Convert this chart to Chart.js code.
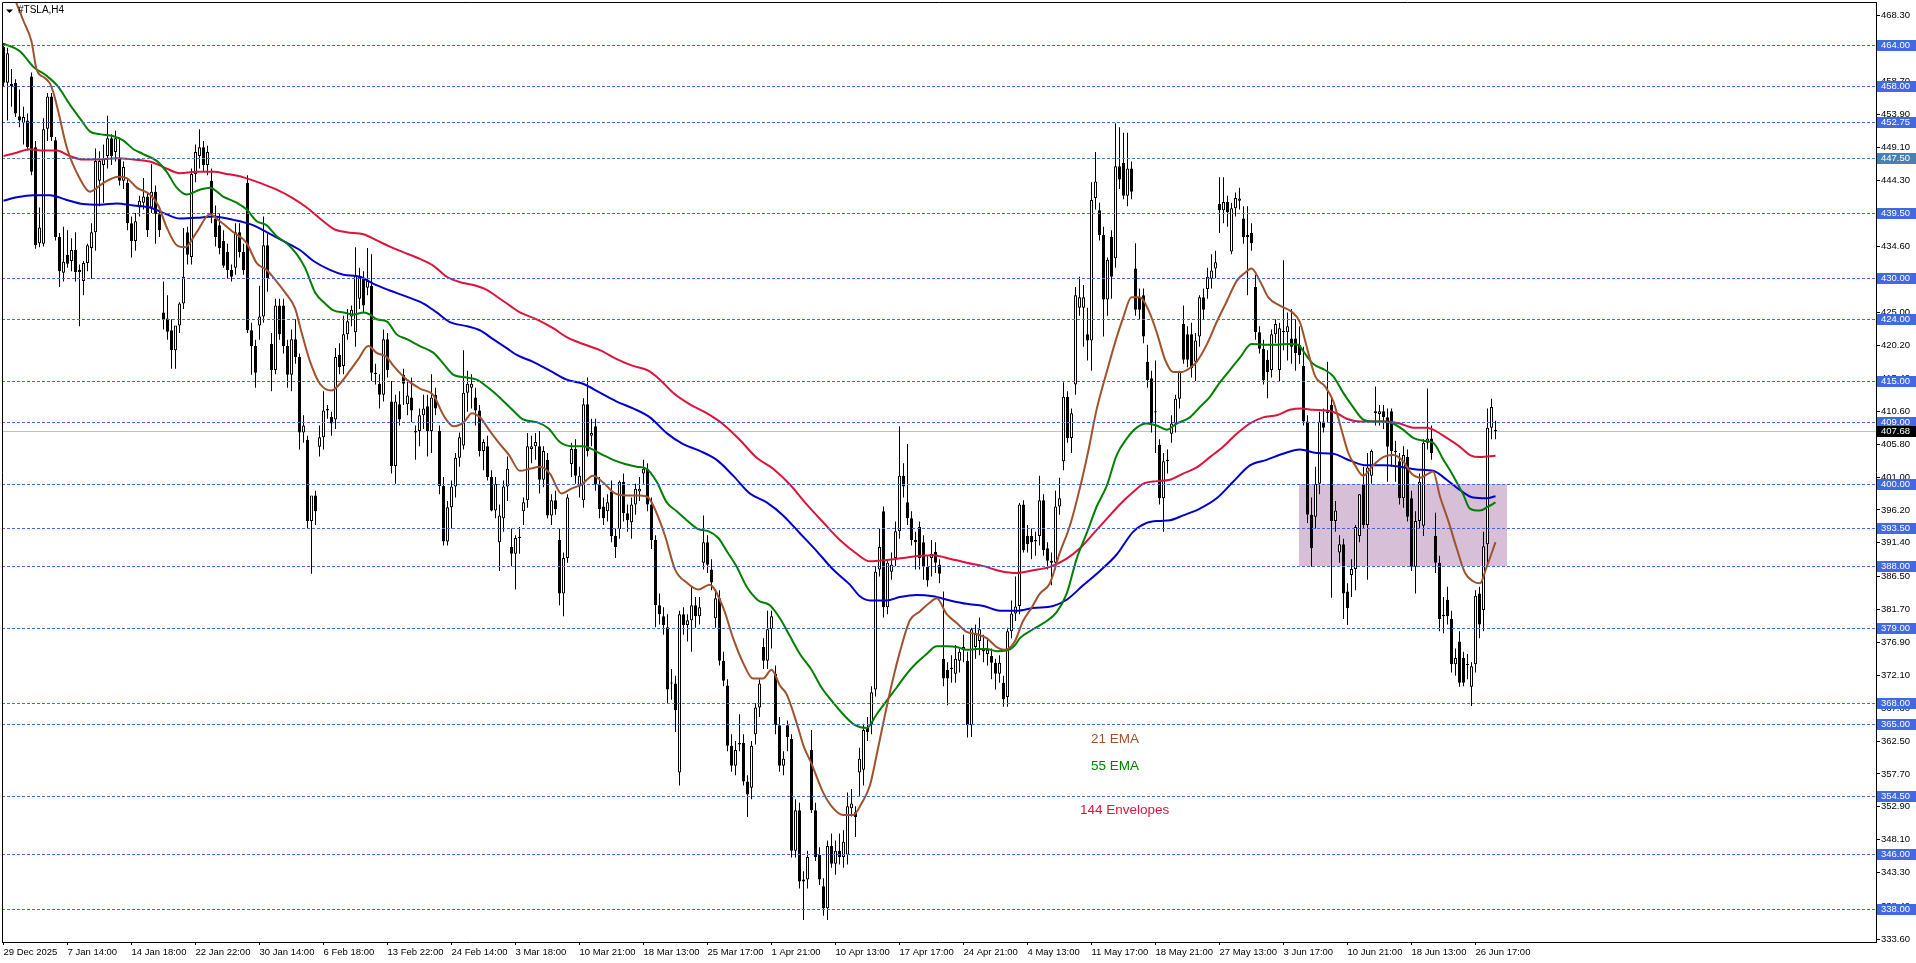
<!DOCTYPE html>
<html>
<head>
<meta charset="utf-8">
<title>#TSLA,H4</title>
<script src="https://cdn.jsdelivr.net/npm/chart.js@4.4.1/dist/chart.umd.min.js"></script>
<style>
  html, body { margin: 0; padding: 0; background: #fff; }
  canvas { display: block; }
</style>
</head>
<body>
<canvas id="chart" width="1916" height="963"></canvas>
<script>
// ============================================================
// #TSLA H4 — candles, EMA 21 / EMA 55 / 144 envelopes, levels
// ============================================================

// ---------- candles (one entry per H4 bar, oldest first) ----------
const opens = [
  463.7,458.5,458.3,458.5,453.6,452.6,453.0,459.4,449.1,435.1, // 0
  435.0,451.8,456.5,450.1,436.0,430.8,433.4,432.5,434.1,430.9, // 10
  429.6,432.2,434.4,436.7,444.2,446.5,447.8,450.4,448.4,447.5, // 20
  444.2,443.9,438.0,435.4,440.3,441.0,441.9,440.3,442.6,439.3, // 30
  425.0,424.1,422.4,419.5,423.1,426.3,436.7,433.1,445.2,447.8, // 40
  449.1,446.5,444.2,438.7,437.7,435.4,433.8,431.2,431.5,436.7, // 50
  433.8,443.9,422.4,420.1,423.1,424.4,434.8,420.4,416.6,426.0, // 60
  426.0,420.1,415.9,421.1,418.5,407.5,406.4,394.6,398.3,405.4, // 70
  406.8,410.7,409.8,409.4,418.8,417.2,421.8,424.4,422.1,427.0, // 80
  429.9,428.6,428.9,416.2,414.6,413.0,421.1,412.0,402.6,411.6, // 90
  415.9,411.6,412.6,407.7,407.7,410.0,411.3,407.7,413.0,407.7, // 100
  399.7,391.6,396.6,399.6,403.8,405.6,413.3,414.0,412.6,410.7, // 110
  404.8,405.5,401.0,396.1,391.5,395.0,399.6,390.8,389.8,392.1, // 120
  396.0,397.6,405.1,405.5,405.5,400.6,403.5,395.4,397.6,391.8, // 130
  384.0,389.2,402.9,405.1,399.6,397.6,411.6,407.0,408.4,399.9, // 140
  396.7,396.0,398.9,392.4,393.4,400.3,395.7,394.4,397.0,398.9, // 150
  401.5,402.2,397.0,391.8,382.3,380.7,379.1,370.9,370.9,357.9, // 160
  381.0,379.4,380.1,382.3,380.7,388.5,391.5,387.5,380.4,383.3, // 170
  374.2,370.6,361.8,358.9,362.2,362.2,356.6,355.7,363.5,367.4, // 180
  376.2,374.2,378.8,372.3,364.8,358.9,364.8,362.8,346.5,352.4, // 190
  342.3,342.3,361.2,352.4,345.9,341.3,338.1,347.2,344.6,346.5, // 200
  345.6,345.9,352.7,352.1,357.9,358.3,364.4,364.8,370.0,387.5, // 210
  396.0,382.0,387.2,389.2,393.1,401.2,397.3,395.0,391.8,393.7, // 220
  391.5,387.9,389.2,390.1,388.2,374.5,372.9,373.2,372.3,374.2, // 230
  375.8,374.2,364.8,376.2,377.1,375.8,375.2,374.9,373.9,372.3, // 240
  371.0,368.9,378.5,381.1,382.2,397.0,392.4,392.4,391.6,392.4, // 250
  397.6,390.6,388.8,388.5,396.7,403.3,412.7,406.7,414.5,425.7, // 260
  425.7,421.8,420.9,441.7,439.9,436.3,426.9,436.0,432.9,446.3, // 270
  446.8,442.0,446.0,431.4,427.2,427.5,417.8,415.4,410.6,405.7, // 280
  397.9,403.3,407.3,408.8,412.4,423.3,421.8,421.8,417.8,421.5, // 290
  427.2,428.4,429.9,431.4,440.8,439.9,441.1,433.9,440.2,441.3, // 300
  438.7,436.3,436.6,428.7,422.1,419.7,418.1,416.6,421.8,416.6, // 310
  422.1,422.1,421.2,421.2,420.3,417.2,409.1,395.5,395.2,400.0, // 320
  409.1,410.6,411.5,394.6,390.0,391.2,384.3,386.7,387.6,392.4, // 330
  400.0,394.0,401.2,410.3,410.2,410.6,409.7,410.6,404.8,403.3, // 340
  397.9,403.9,397.9,387.9,394.6,393.9,406.0,406.6,392.4,388.5, // 350
  380.9,383.1,380.3,373.7,377.0,374.6,373.7,370.4,373.7,384.0, // 360
  381.6,391.2,408.2,407.9                                      // 370
];

const highs = [
  464.3,463.6,460.5,459.0,457.5,455.0,454.0,460.0,450.0,440.3,
  453.3,457.0,457.0,450.6,436.6,437.5,437.0,435.8,436.7,432.0,
  432.5,435.0,438.0,448.9,448.5,449.5,453.7,451.0,451.5,450.5,
  447.0,444.5,439.0,439.5,442.0,444.6,442.5,446.6,443.5,440.0,
  429.5,427.5,424.0,423.0,426.5,437.3,437.5,446.0,449.5,451.7,
  450.0,449.3,446.0,440.6,439.5,437.0,435.0,432.0,438.0,438.0,
  435.0,445.0,423.5,421.0,428.9,439.0,436.5,422.0,427.0,427.0,
  427.0,421.0,422.5,424.0,419.0,410.0,407.0,398.0,399.0,408.5,
  413.5,411.5,410.5,419.8,420.5,424.5,425.5,426.0,434.5,431.5,
  431.0,434.4,433.5,417.5,416.0,422.5,422.0,415.0,413.0,413.5,
  416.8,415.0,415.5,408.5,411.0,413.0,413.0,416.0,414.0,408.5,
  401.0,397.5,400.5,404.5,407.5,419.5,416.5,416.0,414.0,411.5,
  406.5,407.0,402.0,401.0,397.0,400.5,404.0,393.5,392.5,393.7,
  398.0,407.4,407.0,407.4,407.7,405.5,404.5,398.5,399.0,393.5,
  390.0,398.5,406.0,406.5,402.5,412.5,415.5,409.5,409.5,401.0,
  398.0,398.5,400.5,393.5,400.5,401.5,397.0,398.0,400.0,401.0,
  403.5,403.0,398.0,392.5,384.0,382.0,381.0,373.0,372.0,381.5,
  382.0,381.0,385.0,383.5,383.5,395.4,392.5,389.0,384.5,384.5,
  375.5,371.5,363.5,362.5,366.4,363.5,357.5,362.5,368.0,371.5,
  377.5,381.5,381.5,373.5,366.0,361.0,365.5,363.5,354.0,353.5,
  343.5,346.5,364.1,353.5,347.0,342.5,348.0,349.0,348.0,349.0,
  349.5,355.0,355.5,353.0,361.5,365.0,366.0,370.5,388.0,393.5,
  396.7,389.0,390.0,394.5,408.4,403.0,405.8,396.0,393.0,394.5,
  392.5,389.5,391.8,391.5,389.0,384.3,374.0,375.0,376.5,376.0,
  378.0,375.5,379.0,379.5,380.5,378.0,377.5,376.0,374.5,375.0,
  372.0,379.0,383.0,386.5,397.2,397.6,394.0,393.5,393.0,401.2,
  398.5,391.5,390.0,399.0,400.9,414.8,413.5,411.0,428.7,430.2,
  429.0,425.7,444.0,448.4,441.0,437.5,433.0,437.0,452.6,452.0,
  451.2,451.2,447.0,435.1,428.5,428.5,420.3,416.5,418.0,406.5,
  404.5,405.0,410.0,413.0,416.5,426.0,423.0,423.5,422.0,427.5,
  428.5,431.5,433.5,434.0,444.7,444.7,442.0,441.0,442.5,443.2,
  440.5,440.5,438.0,430.5,423.0,421.0,419.5,422.5,424.0,423.5,
  432.6,425.0,425.5,424.0,423.0,420.0,410.0,398.0,402.5,410.5,
  411.0,417.8,412.5,397.5,392.5,392.0,385.5,389.0,394.0,398.5,
  402.5,404.5,405.0,414.2,411.5,411.5,411.0,411.0,406.3,404.5,
  405.5,405.0,399.0,396.0,401.5,406.5,413.9,408.5,395.8,389.5,
  383.5,385.0,381.5,376.0,378.5,375.5,375.2,374.0,384.5,385.0,
  393.0,411.0,412.4,409.2
];

const lows = [
  457.9,453.0,455.0,453.5,452.0,449.5,448.6,445.0,434.3,434.5,
  434.6,450.0,450.0,435.5,428.7,429.5,431.5,431.0,429.5,423.0,
  427.5,431.0,429.9,434.0,440.5,441.0,446.0,446.5,447.0,443.5,
  443.0,437.0,433.0,434.0,439.0,440.0,436.0,439.5,435.0,436.0,
  422.5,421.0,416.8,416.8,422.0,425.5,432.0,432.0,444.0,446.0,
  445.5,445.0,438.0,434.6,433.5,431.5,430.0,429.5,430.5,433.0,
  430.5,422.0,415.9,414.0,421.0,423.5,428.0,413.5,416.0,421.0,
  419.0,414.0,413.5,417.5,405.0,406.0,393.5,386.9,394.0,404.0,
  405.0,409.5,407.0,408.0,416.0,416.0,421.0,423.0,420.0,425.5,
  425.0,427.5,415.0,414.5,411.0,412.0,415.5,401.5,400.0,408.5,
  411.5,410.0,409.0,403.5,405.5,408.0,404.0,404.5,410.0,398.5,
  391.0,391.0,393.5,398.0,402.5,405.0,410.5,411.0,408.5,404.0,
  402.0,400.5,396.0,395.0,387.3,393.0,397.5,388.0,384.6,389.8,
  394.0,396.5,403.0,403.5,398.6,399.5,395.0,394.0,395.5,382.3,
  380.7,388.5,401.0,400.0,398.0,396.5,404.0,405.5,399.0,395.0,
  394.0,394.5,391.5,389.2,392.0,394.5,393.0,392.0,395.5,397.5,
  400.0,396.0,390.5,379.1,379.5,378.0,368.0,368.5,363.8,356.0,
  378.0,377.0,375.5,379.0,379.5,387.5,387.0,384.5,379.0,373.5,
  370.5,361.0,358.0,357.5,361.0,356.0,351.4,354.0,362.0,366.0,
  373.0,373.0,376.0,363.5,358.0,357.5,361.0,345.5,345.5,341.0,
  336.4,341.0,352.0,345.0,341.5,337.0,336.4,344.0,343.0,344.5,
  344.0,344.5,351.5,348.5,354.5,356.0,362.5,363.5,369.0,386.5,
  380.5,381.0,386.0,388.0,392.0,398.0,394.0,391.0,387.5,387.5,
  386.0,385.0,386.5,387.0,385.5,370.5,367.7,371.0,371.0,372.5,
  374.0,363.0,363.1,374.5,375.0,374.0,373.5,371.5,370.0,371.0,
  367.5,367.5,377.5,380.0,381.0,390.0,390.0,389.0,389.5,391.0,
  389.5,387.5,385.2,387.5,395.5,402.0,406.0,404.5,413.0,424.5,
  420.0,418.0,416.5,440.0,435.5,421.5,424.5,427.0,431.5,443.0,
  441.5,440.5,441.5,424.5,424.0,420.5,414.0,407.5,404.5,397.0,
  393.0,401.5,406.0,407.5,411.0,417.5,417.0,415.5,415.0,420.0,
  424.0,427.0,428.5,430.0,436.6,438.0,437.5,433.5,439.0,440.0,
  435.0,427.5,434.0,421.0,419.0,414.5,412.5,415.5,420.5,415.0,
  419.5,418.0,417.5,416.5,417.5,408.5,394.3,387.9,393.5,398.5,
  407.5,409.0,383.4,393.0,388.5,380.3,379.4,383.5,384.5,391.5,
  393.5,386.0,400.0,408.5,408.5,408.0,400.3,402.5,400.3,397.0,
  396.5,394.5,387.3,384.0,393.5,392.4,405.0,403.5,387.0,378.5,
  378.2,379.5,372.5,372.0,370.4,370.5,371.5,367.6,372.5,377.5,
  378.5,388.0,406.5,406.5
];

const closes = [
  458.5,462.8,458.0,454.0,453.0,453.5,449.1,445.5,434.8,437.4,
  451.7,456.5,450.6,436.0,431.0,432.4,432.1,434.1,430.9,431.2,
  432.2,434.8,436.7,447.1,447.1,447.5,450.4,447.8,450.4,444.2,
  446.2,438.0,435.4,438.3,441.3,441.9,437.0,442.6,439.3,437.0,
  424.0,422.2,419.5,423.1,426.3,430.2,433.4,445.2,448.4,449.1,
  446.5,448.4,439.3,436.0,434.4,431.8,431.2,430.2,436.7,433.8,
  431.2,422.4,420.1,416.2,424.4,434.8,430.0,416.6,426.0,421.8,
  420.1,415.9,421.1,418.5,407.5,408.5,394.6,398.3,396.0,406.8,
  410.7,410.9,408.8,418.5,417.0,421.8,423.7,425.4,430.5,430.2,
  426.0,429.6,416.2,416.0,413.0,421.1,416.6,402.6,412.0,409.4,
  414.6,412.9,410.7,407.5,410.0,411.0,407.7,412.6,411.0,399.7,
  391.6,396.6,399.6,403.8,406.8,413.3,414.6,414.6,410.7,404.8,
  406.1,401.0,396.1,400.0,395.4,399.6,402.2,389.8,392.1,392.3,
  397.3,405.5,405.5,406.1,400.6,404.8,395.4,397.6,396.3,384.0,
  389.2,398.0,405.1,401.2,401.2,411.6,404.8,407.4,399.9,396.3,
  395.0,397.3,392.4,390.8,400.3,395.7,394.7,397.0,399.3,399.3,
  402.2,397.0,391.8,382.3,381.0,379.4,370.0,371.0,367.0,381.0,
  379.4,380.1,382.3,380.7,382.0,391.5,388.2,385.6,383.3,374.2,
  371.3,361.8,358.9,361.2,362.0,356.6,354.7,361.8,367.4,370.9,
  374.2,378.8,380.7,364.8,358.9,359.9,363.1,346.5,352.4,342.0,
  342.0,345.6,352.4,345.6,342.3,338.1,347.2,344.6,346.5,345.6,
  347.8,353.0,353.4,351.4,359.9,364.1,363.8,369.6,387.2,390.8,
  382.0,388.5,388.2,393.1,401.2,399.6,395.0,391.8,391.5,389.2,
  387.9,385.9,389.8,388.5,386.9,371.6,371.6,373.0,374.5,375.5,
  376.2,364.8,378.8,378.1,378.8,375.6,375.8,373.9,372.3,373.9,
  368.6,378.5,381.1,382.1,397.0,390.3,391.2,391.5,391.8,397.6,
  390.3,388.8,388.5,396.7,397.9,412.7,406.7,410.3,427.5,427.2,
  427.2,420.9,441.4,444.1,436.3,426.9,432.7,430.2,446.3,444.4,
  442.0,446.0,442.6,425.4,425.4,421.5,415.1,408.8,410.4,397.9,
  403.3,403.5,408.8,412.4,416.3,418.1,418.1,416.9,420.9,427.2,
  425.4,430.2,431.1,432.3,439.9,441.1,439.6,440.2,441.7,441.6,
  436.0,436.0,435.1,422.1,419.7,415.1,416.3,421.8,423.3,422.7,
  422.3,423.0,420.0,419.1,418.8,409.1,395.5,390.6,400.0,409.1,
  408.2,410.3,394.6,396.1,391.2,384.0,381.9,387.6,393.7,398.5,
  394.0,402.4,404.8,410.6,410.6,409.7,405.4,404.8,404.6,397.9,
  404.2,395.2,387.9,394.6,400.3,406.0,406.6,404.5,388.5,380.3,
  380.7,380.7,373.7,374.6,371.0,371.0,373.6,373.4,383.7,379.5,
  390.9,408.2,411.2,407.68
];

// ---------- indicator lines as [bar, price] ----------
const ema21 = [
  [2.9,470.6],[5,467.5],[7,464.5],[8.3,460.4],[10.3,459.2],[11.6,458.4],[12.5,457.0],[13.7,454.3],
  [15.8,449.1],[19.1,444.5],[21.6,442.6],[25,443.9],[28.7,444.8],[30.8,444.6],[33.3,443.2],[36.6,442.2],
  [38.7,440.6],[40.8,437.4],[43.3,434.8],[45.4,434.5],[48.3,436.7],[51.6,439.3],[54.1,438.3],[57.5,436.7],
  [60.8,435.1],[63.3,432.2],[65.8,431.2],[68.3,429.5],[70.8,427.6],[72.9,425.6],[74.5,422.1],[76.6,417.9],
  [79.1,414.6],[82,413.6],[84.1,414.6],[86.6,416.5],[88.7,418.2],[91.2,420.1],[93.3,419.1],[95.8,418.5],
  [97.5,417.2],[100.8,415.2],[104.1,413.9],[107.5,412.9],[110,410],[112.5,408.4],[115.1,409],[117.1,410.3],
  [119.1,409.7],[121.6,407.7],[124.1,405.8],[126.4,404.2],[129.1,401.9],[131.6,402.2],[134.1,402.5],[136.6,401.5],
  [139.5,398.6],[142,399.3],[144.5,399.9],[147.4,401.2],[149.9,400.2],[152.9,398.6],[155.8,398.3],[159.1,398.3],
  [161.2,398],[163.3,395.7],[165.4,392.4],[167.9,387.5],[170.8,385.6],[173.7,384.6],[176.5,385.3],[179.9,382],
  [182.4,377.5],[184.9,373.9],[187.4,371.6],[189.9,371.6],[192,372.9],[194.1,370.6],[195.8,369.3],[198.3,365.1],
  [200,361.8],[202,359.2],[204.9,355],[207.4,352.7],[209.9,351.7],[212.4,351.7],[214.5,353.4],[216.6,356],
  [218.3,360.5],[220.4,366.4],[222.4,371.6],[224.1,375.5],[226.6,380.1],[229.1,381.4],[231.6,382.7],[233.3,383.3],
  [235.8,381],[238.3,379.7],[240.8,378.4],[243.3,378.1],[245.8,377.5],[248.3,376.2],[250.2,375.8],[252.7,376.9],
  [254.9,380],[257,381.9],[259.1,384],[261.6,385.5],[264.1,390],[266.6,393.9],[269.1,399.4],[271.2,404.8],
  [273.3,410.9],[275.8,416.3],[277.9,420.6],[279.9,424.2],[282,427.2],[284.1,427.2],[286.2,425.4],[288.3,422.1],
  [290.4,418.1],[292.4,416.3],[294.5,416.3],[296.6,416.9],[298.3,417.8],[300.8,420.3],[303.3,423.6],[305.8,426.6],
  [308.3,429.6],[310.4,430.8],[312,431.4],[314.1,429.6],[316.2,427.2],[319.1,426],[322,425.1],[324.1,423.6],
  [325.8,420],[327.9,415.7],[330.4,414.2],[332.4,412.1],[334.5,407.9],[336.2,404.5],[337.9,402.7],[339.9,401.2],
  [342.4,402.7],[344.9,403.9],[347.4,404.2],[349.9,403.3],[352,401.5],[354.1,400.9],[356.2,401.5],[357.4,401.8],
  [359.1,398.2],[361.2,394.6],[363.3,390.6],[365.4,387],[367.4,385.8],[369.1,385.5],[370.8,387.9],[373,391.5]
];

const ema55 = [
  [0,464.2],[4.1,463.1],[7.5,460.8],[10.8,459.5],[13.7,457.9],[16.6,455.3],[19.1,453.3],[21.6,451.4],
  [24.1,451],[27.5,450.7],[29.9,450.1],[32.5,448.8],[34.9,448.1],[38.3,447.1],[40.8,445.5],[43.3,443.2],
  [45.8,442.2],[49.1,442.9],[51.6,443.2],[54.9,441.9],[58.3,441],[60.8,440],[63.3,438.3],[65.8,437.7],
  [68.3,436.1],[70.8,435.1],[73.3,433.5],[75.4,431.5],[77.9,427.9],[80.4,426.3],[82.5,425.3],[85,425],
  [87.5,424.7],[90,425],[91.6,424.7],[93.3,424],[95.8,423.7],[98.3,421.8],[100.8,421.1],[104.1,420.1],
  [107.5,419.1],[110,417.5],[112.5,415.9],[115.8,415.5],[118.3,415.2],[120.8,414.2],[123.3,413],[125.8,411.6],
  [127.4,410.7],[129.9,409.4],[133.3,409],[136.2,408.1],[139.1,406.1],[142,405.5],[144.9,405.5],[147,405.1],
  [149.9,404.2],[152.4,403.5],[155.4,402.9],[158.3,402.5],[160.8,402.2],[163.3,400.3],[165.8,397.3],[168.3,396],
  [170.8,394.7],[173.7,393.4],[176.2,393.1],[178.7,392.1],[180.8,390.2],[183.3,387.9],[185.8,385],[188.7,383],
  [191.6,382.3],[194.1,380.4],[196.6,377.8],[199.1,375.2],[202,372.9],[204.5,370.3],[207,368.4],[209.9,366.4],
  [212.9,364.8],[215.8,364.4],[218.3,366.4],[220.8,368.4],[223.3,370.3],[225.8,372.3],[228.3,373.9],[230.8,375.2],
  [233.3,376.3],[235.8,376.3],[238.3,376.2],[240.8,375.8],[243.3,375.9],[245.8,375.9],[248.3,375.6],[250.8,375.7],
  [252.9,376.5],[254.1,377.5],[257.4,378.8],[260.8,380],[263.3,381.3],[265.8,384],[268.3,389.1],[270.8,392.8],
  [273.3,396.7],[275.8,399.7],[278.3,404.2],[280.8,406.6],[283.3,408.2],[285.8,408.8],[288.3,408.5],[290.8,407.9],
  [293.3,408.8],[296.6,409.7],[299.1,411.2],[301.6,412.7],[304.1,414.8],[306.6,416.6],[309.1,418.4],[312,420.4],
  [315,420.3],[318.3,420.3],[321.6,420.4],[323.7,420.3],[324.9,419.4],[327.4,417.5],[330.4,416.6],[332.4,415.7],
  [334.9,413.3],[337.4,411.2],[339.9,409.4],[342.4,409.1],[344.9,409.1],[347.4,408.8],[349.9,407.9],[352.4,406.7],
  [354.9,406.3],[357.4,406],[359.9,403.6],[362.4,401.2],[364.9,398.5],[366.6,396.4],[369.1,396.1],[371.2,396.7],
  [373,397.3]
];

const envUpper = [
  [0,447.8],[3.3,448.3],[6.6,448.8],[9.9,448.6],[13.3,448.6],[16.6,447.8],[19.9,447.3],[24.1,447.3],
  [28.3,447.5],[32.5,447.3],[36.6,447],[40,446.2],[44.1,445.3],[48.3,445.5],[52.5,445.5],[55.8,445.2],
  [60,444.7],[64.1,443.9],[68.3,442.9],[72.5,441.6],[75.8,440.3],[79.1,438.7],[82.5,437.2],[85.8,436.7],
  [90,436.4],[93.3,435.5],[96.6,434.6],[99.9,433.8],[104.1,432.8],[107.5,431.8],[110.8,430.2],[114.2,429.4],
  [117.5,429],[120.8,428.3],[124.1,427],[126.6,426],[129.1,425],[133.3,424],[137.4,422.7],[140.8,421.4],
  [144.9,420.4],[149.1,419.5],[153.3,418.2],[157.4,417.2],[161.2,416.5],[164.1,415.2],[167.4,413.3],[171.6,411.6],
  [175.8,410.3],[179.9,408.7],[184.1,406.4],[188.3,403.8],[192.4,402.2],[196.6,399.9],[200.8,397],[204.9,394.4],
  [209.1,391.8],[213.3,389.8],[216.6,388.7],[220.8,388.9],[224.9,389.2],[229.1,389.5],[232.4,389.6],[235.8,389.2],
  [240.8,388.5],[245,388],[249.1,387.3],[253.3,387],[257.4,387.4],[261.6,387.9],[265.8,389.1],[269.1,390.6],
  [272.4,392.7],[275.8,394.9],[279.1,397],[282.4,398.8],[284.9,400],[288.3,400.4],[291.6,400.6],[294.9,401.5],
  [298.3,402.4],[301.6,403.9],[304.9,405.4],[308.3,407.3],[311.6,408.8],[314.9,409.7],[318.3,410],[321.6,410.8],
  [324.5,411],[327.4,410.8],[330.7,410.7],[333.3,410.3],[335.8,409.5],[339.1,409.1],[342.4,409.1],[345.8,409.1],
  [349.1,408.8],[352.4,408.2],[355.8,408.2],[357.4,407.9],[360.8,406.7],[364.1,405.4],[366.6,404.2],[369.1,403.9],
  [373,404.1]
];

const envLower = [
  [0,441.3],[3.3,441.8],[7.5,442.1],[11.6,442.1],[15.8,441.4],[19.9,440.8],[24.1,440.7],[28.3,440.9],
  [32.5,440.6],[36.6,440.3],[40.8,439.3],[44.1,438.7],[48.3,438.8],[52.5,439],[57.5,438.5],[62.5,437.7],
  [65.8,436.7],[70,435.4],[74.1,434.1],[77.5,432.5],[81.6,431.2],[85,430.5],[89.1,430.2],[92.4,429.2],
  [96.6,428.2],[100.8,427.3],[105,426.3],[108.3,425],[111.6,423.6],[115.8,423],[119.1,422.4],[122.4,421.1],
  [125.8,419.8],[128.3,418.8],[132.4,417.8],[136.6,416.5],[140.8,415.2],[144.9,414.6],[149.1,413.3],[153.3,412],
  [157.4,411],[161.6,409.7],[165.8,407.4],[169.9,405.8],[174.1,404.8],[178.3,403.5],[182.4,401.2],[186.6,398.6],
  [190.8,397.3],[194.9,395.4],[199.1,392.8],[203.3,390.2],[207.4,387.5],[211.6,385.3],[214.1,383.6],[216.6,383],
  [220.8,383],[224.1,383.5],[228.3,383.8],[232.4,383.6],[236.6,383],[240.8,382.5],[245,382.2],[249.1,381.5],
  [253.3,381.5],[257.4,381.9],[262.4,382.2],[265.8,383.1],[269.9,385.2],[274.1,387.3],[278.3,389.7],[282.4,393],
  [285.8,394.3],[289.1,394.6],[291.6,394.7],[294.9,395.4],[299.1,396.4],[303.3,397.9],[307.4,400.3],[311.6,402.7],
  [315.8,403.5],[319.9,404.4],[324.1,405],[328.3,404.5],[332.4,404.4],[336.6,403.4],[340.8,402.7],[344.9,402.7],
  [349.1,402.5],[353.3,402.1],[357.4,401.9],[360.8,400.6],[364.1,399.1],[367.4,398],[370.8,397.9],[373,398.2]
];

// ---------- horizontal levels, zone, bid ----------
const levels = [464, 458, 452.75, 447.5, 439.5, 430, 424, 415, 409, 400, 393.5, 388, 379, 368, 365, 354.5, 346, 338];
const selectedLevel = 447.5;
const bidPrice = 407.68;
const zoneBars = [323.9, 375.8];
const zonePrices = [388, 400];

// ---------- axes ----------
const yTickValues = [
  333.6, 338.4, 343.3, 348.1, 352.9, 357.7, 362.5, 367.3, 372.1, 376.9, 381.7, 386.5, 391.4, 396.2, 401.0,
  405.8, 410.6, 415.4, 420.2, 425.0, 429.8, 434.6, 439.5, 444.3, 449.1, 453.9, 458.7, 463.5, 468.3
];
const priceRange = [333.1875, 470.271];
const barRange = [-0.375, 468.125];

const xTickBars = [0,16,32,48,64,80,96,112,128,144,160,176,192,208,224,240,256,272,288,304,320,336,352,368];
const xTickLabels = [
  "29 Dec 2025", "7 Jan 14:00", "14 Jan 18:00", "22 Jan 22:00", "30 Jan 14:00", "6 Feb 18:00",
  "13 Feb 22:00", "24 Feb 14:00", "3 Mar 18:00", "10 Mar 21:00", "18 Mar 13:00", "25 Mar 17:00",
  "1 Apr 21:00", "10 Apr 13:00", "17 Apr 17:00", "24 Apr 21:00", "4 May 13:00", "11 May 17:00",
  "18 May 21:00", "27 May 13:00", "3 Jun 17:00", "10 Jun 21:00", "18 Jun 13:00", "26 Jun 17:00"
];

// ---------- chart annotations ----------
const notes = [
  { text: "21 EMA", bar: 271.9, price: 362.8, color: "#A0522D" },
  { text: "55 EMA", bar: 271.9, price: 358.85, color: "#008000" },
  { text: "144 Envelopes", bar: 269.1, price: 352.45, color: "#DC143C" }
];

// ============================================================
// BUILD DATASETS
// ============================================================

const FONT_FAMILY = "'Liberation Sans', Arial, sans-serif";
const TICK_FONT = { family: FONT_FAMILY, size: 9.5 };

const barIdx = opens.map((_, i) => i);
const bodyColors = barIdx.map(i => (closes[i] >= opens[i] ? "#ffffff" : "#000000"));

function toPoints(pairs) {
  return pairs.map(([x, y]) => ({ x, y }));
}

function lineSet(label, pairs, color) {
  return {
    type: "line",
    label,
    data: toPoints(pairs),
    borderColor: color,
    borderWidth: 2,
    pointRadius: 0,
    cubicInterpolationMode: "monotone",
    order: 1
  };
}

// ============================================================
// OVERLAY PLUGIN — zone, bid line, levels, labels, frame
// ============================================================

const overlay = {
  id: "overlay",

  beforeDatasetsDraw(chart) {
    const { ctx, chartArea: a, scales: { x, y } } = chart;
    ctx.save();
    ctx.beginPath();
    ctx.rect(a.left, a.top, a.right - a.left, a.bottom - a.top);
    ctx.clip();

    // zone rectangle
    const zx0 = x.getPixelForValue(zoneBars[0]);
    const zx1 = x.getPixelForValue(zoneBars[1]);
    const zy0 = y.getPixelForValue(zonePrices[1]);
    const zy1 = y.getPixelForValue(zonePrices[0]);
    ctx.fillStyle = "#D8BFD8";
    ctx.fillRect(Math.round(zx0), Math.round(zy0), Math.round(zx1 - zx0), Math.round(zy1 - zy0));

    // bid line
    const by = Math.round(y.getPixelForValue(bidPrice)) + 0.5;
    ctx.strokeStyle = "#C0C0C0";
    ctx.lineWidth = 1;
    ctx.beginPath();
    ctx.moveTo(a.left, by);
    ctx.lineTo(a.right, by);
    ctx.stroke();

    ctx.restore();
  },

  afterDatasetsDraw(chart) {
    const { ctx, chartArea: a, scales: { x, y } } = chart;
    ctx.save();
    ctx.beginPath();
    ctx.rect(a.left, a.top, a.right - a.left, a.bottom - a.top);
    ctx.clip();

    // dashed levels
    ctx.lineWidth = 1;
    ctx.setLineDash([3, 2]);
    levels.forEach(v => {
      const py = Math.round(y.getPixelForValue(v)) + 0.5;
      ctx.strokeStyle = v === selectedLevel ? "#4682B4" : "#4169E1";
      ctx.beginPath();
      ctx.moveTo(a.left, py);
      ctx.lineTo(a.right, py);
      ctx.stroke();
    });
    ctx.setLineDash([]);

    // text notes
    ctx.font = "13.5px " + FONT_FAMILY;
    ctx.textBaseline = "middle";
    ctx.textAlign = "left";
    notes.forEach(n => {
      ctx.fillStyle = n.color;
      ctx.fillText(n.text, x.getPixelForValue(n.bar), y.getPixelForValue(n.price));
    });

    ctx.restore();
  },

  afterDraw(chart) {
    const { ctx, chartArea: a, scales: { y } } = chart;
    ctx.save();

    // frame (left + top; right/bottom come from the axes)
    ctx.strokeStyle = "#000";
    ctx.lineWidth = 1;
    ctx.beginPath();
    ctx.moveTo(a.left + 0.5, a.bottom);
    ctx.lineTo(a.left + 0.5, a.top + 0.5);
    ctx.lineTo(a.right, a.top + 0.5);
    ctx.stroke();

    // price boxes on the axis
    ctx.font = "9.5px " + FONT_FAMILY;
    ctx.textBaseline = "middle";
    ctx.textAlign = "left";
    levels.forEach(v => {
      const py = Math.round(y.getPixelForValue(v));
      ctx.fillStyle = v === selectedLevel ? "#4682B4" : "#4169E1";
      ctx.fillRect(a.right + 1, py - 5, 40, 11);
      ctx.fillStyle = "#ffffff";
      ctx.fillText(v.toFixed(2), a.right + 5, py + 0.5);
    });

    const bpy = Math.round(y.getPixelForValue(bidPrice));
    ctx.fillStyle = "#000000";
    ctx.fillRect(a.right + 1, bpy - 5, 40, 11);
    ctx.fillStyle = "#ffffff";
    ctx.fillText(bidPrice.toFixed(2), a.right + 5, bpy + 0.5);

    // symbol title
    ctx.fillStyle = "#000000";
    ctx.beginPath();
    ctx.moveTo(a.left + 4, a.top + 7.5);
    ctx.lineTo(a.left + 11, a.top + 7.5);
    ctx.lineTo(a.left + 7.5, a.top + 11);
    ctx.closePath();
    ctx.fill();
    ctx.font = "10px " + FONT_FAMILY;
    ctx.fillText("#TSLA,H4", a.left + 16, a.top + 8.5);

    ctx.restore();
  }
};

// ============================================================
// CHART
// ============================================================

new Chart(document.getElementById("chart"), {
  type: "bar",
  data: {
    datasets: [
      lineSet("21 EMA", ema21, "#A0522D"),
      lineSet("55 EMA", ema55, "#008000"),
      lineSet("144 Envelopes upper", envUpper, "#DC143C"),
      lineSet("144 Envelopes lower", envLower, "#0000CD"),
      {
        type: "bar",
        label: "bodies",
        data: barIdx.map(i => ({ x: i, y: [Math.min(opens[i], closes[i]), Math.max(opens[i], closes[i])] })),
        backgroundColor: bodyColors,
        borderColor: "#000000",
        borderWidth: 1,
        borderSkipped: false,
        inflateAmount: 0,
        barThickness: 3,
        minBarLength: 1,
        grouped: false,
        order: 2
      },
      {
        type: "bar",
        label: "wicks",
        data: barIdx.map(i => ({ x: i, y: [lows[i], highs[i]] })),
        backgroundColor: "#000000",
        borderWidth: 0,
        inflateAmount: 0,
        barThickness: 1,
        grouped: false,
        order: 3
      }
    ]
  },
  options: {
    responsive: false,
    animation: false,
    devicePixelRatio: 1,
    events: [],
    layout: { padding: { left: 2, top: 2, right: 0, bottom: 0 } },
    plugins: {
      legend: { display: false },
      tooltip: { enabled: false }
    },
    scales: {
      x: {
        type: "linear",
        position: "bottom",
        min: barRange[0],
        max: barRange[1],
        offset: false,
        afterBuildTicks: s => { s.ticks = xTickBars.map(v => ({ value: v })); },
        afterFit: s => { s.height = 21; s.paddingLeft = 0; s.paddingRight = 0; },
        grid: { drawOnChartArea: false, offset: false, tickLength: 3, color: "#000000" },
        border: { display: true, color: "#000000", width: 1 },
        ticks: {
          autoSkip: false,
          maxRotation: 0,
          minRotation: 0,
          align: "start",
          padding: 2,
          color: "#000000",
          font: TICK_FONT,
          callback: (v, i) => xTickLabels[i]
        }
      },
      y: {
        type: "linear",
        position: "right",
        min: priceRange[0],
        max: priceRange[1],
        afterBuildTicks: s => { s.ticks = yTickValues.map(v => ({ value: v })); },
        afterFit: s => { s.width = 40; s.paddingTop = 0; s.paddingBottom = 0; },
        grid: { drawOnChartArea: false, tickLength: 4, color: "#000000" },
        border: { display: true, color: "#000000", width: 1 },
        ticks: {
          autoSkip: false,
          padding: 1,
          color: "#000000",
          font: TICK_FONT,
          callback: v => v.toFixed(2)
        }
      }
    }
  },
  plugins: [overlay]
});
</script>
</body>
</html>
